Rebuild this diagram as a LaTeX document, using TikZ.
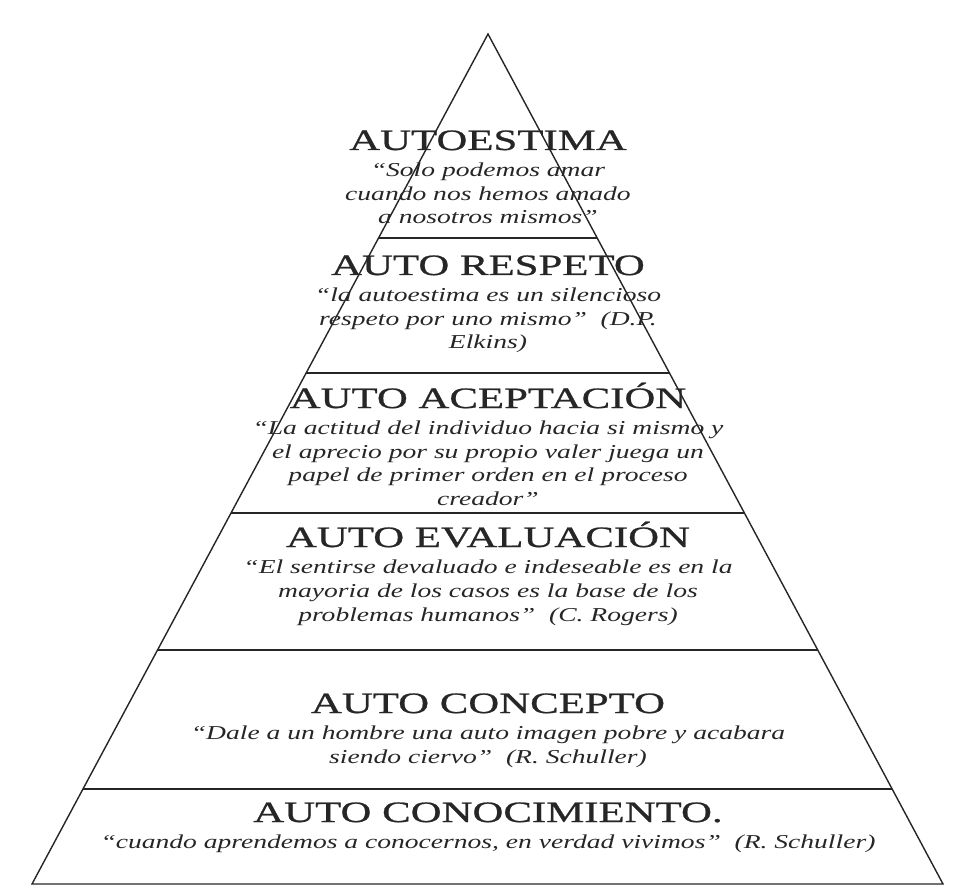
\documentclass[tikz,border=0pt]{standalone}
\usepackage{fontspec}
\setmainfont{Liberation Serif}
\newfontfamily\titlefont[FakeStretch=1.45,FakeBold=0.8]{Liberation Serif}
\newfontfamily\sayingfont[FakeStretch=1.4]{Liberation Serif}
\usetikzlibrary{positioning,calc}

\tikzset{
    edge/.style={draw=black!85,line width=1pt},
    tier/.style={font=\titlefont\fontsize{21}{25}\selectfont,inner sep=0pt,
        text=black!85},
    saying/.style={font=\sayingfont\itshape\fontsize{14}{17}\selectfont,
        align=center,inner sep=0pt,text=black!85}
}

\begin{document}
\begin{tikzpicture}[x=0.025cm,y=-0.025cm,node distance=2.9mm]
\useasboundingbox (0,0) rectangle (955,886);

% the pyramid
\coordinate (apex) at (488,34);
\coordinate (baseL) at (32,884);
\coordinate (baseR) at (943,884);
\draw[edge] (baseL) -- (apex) -- (baseR) -- cycle;
\foreach \t [count=\i] in {0.2400,0.3988,0.5636,0.7247,0.8882}
    \draw[edge] ($(apex)!\t!(baseL)$) coordinate (left\i) --
        ($(apex)!\t!(baseR)$) coordinate (right\i);

% the levels, top to bottom
\node[tier,anchor=base] (estima) at (488,150) {AUTOESTIMA};
\node[saying,below=of estima] (estimaq)
    {“Solo podemos amar\\cuando nos hemos amado\\a nosotros mismos”};

\node[tier,anchor=base] (respeto) at (488,275) {AUTO RESPETO};
\node[saying,below=of respeto] (respetoq)
    {“la autoestima es un silencioso\\respeto por uno mismo”~ (D.P.\\Elkins)};

\node[tier,anchor=base] (acepta) at (488,408) {AUTO ACEPTACIÓN};
\node[saying,below=of acepta] (aceptaq)
    {“La actitud del individuo hacia si mismo y\\el aprecio por su propio
    valer juega un\\papel de primer orden en el proceso\\creador”};

\node[tier,anchor=base] (evalua) at (488,547) {AUTO EVALUACIÓN};
\node[saying,below=of evalua] (evaluaq)
    {“El sentirse devaluado e indeseable es en la\\mayoria de los casos es
    la base de los\\problemas humanos”~ (C. Rogers)};

\node[tier,anchor=base] (concepto) at (488,713) {AUTO CONCEPTO};
\node[saying,below=of concepto] (conceptoq)
    {“Dale a un hombre una auto imagen pobre y acabara\\siendo ciervo”~
    (R. Schuller)};

\node[tier,anchor=base] (conoce) at (488,822) {AUTO CONOCIMIENTO.};
\node[saying,below=of conoce] (conoceq)
    {“cuando aprendemos a conocernos, en verdad vivimos”~ (R. Schuller)};
\end{tikzpicture}
\end{document}
